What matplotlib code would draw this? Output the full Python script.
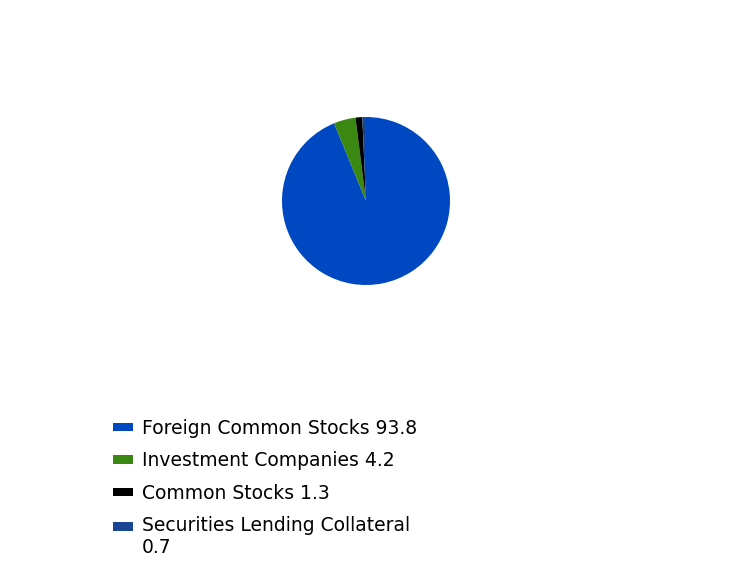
import matplotlib.pyplot as plt
from matplotlib.patches import Patch, Rectangle
from matplotlib.legend_handler import HandlerPatch

categories = ['Foreign Common Stocks', 'Investment Companies', 'Common Stocks',
              'Securities Lending Collateral']
values = [93.8, 4.2, 1.3, 0.7]
colors = ['#0047C2', '#3A8712', '#000000', '#1A4593']
legend_labels = ['Foreign Common Stocks 93.8', 'Investment Companies 4.2',
                 'Common Stocks 1.3', 'Securities Lending Collateral\n0.7']

plt.rcParams['font.family'] = ['DejaVu Sans']


class TopHandler(HandlerPatch):
    # put the swatch next to the first line of a wrapped label
    def __init__(self, shift=0, **kw):
        super().__init__(**kw)
        self.shift = shift

    def create_artists(self, legend, orig_handle, xdescent, ydescent,
                       width, height, fontsize, trans):
        r = Rectangle((-xdescent, -ydescent + self.shift), width, height,
                      facecolor=orig_handle.get_facecolor(), edgecolor='none',
                      transform=trans)
        return [r]


fig = plt.figure(figsize=(7.32, 5.64), dpi=100)
ax = fig.add_axes([366 / 732 - 84 / 732, 1 - (201 + 84) / 564, 168 / 732, 168 / 564])
ax.pie(values, colors=colors, startangle=90, counterclock=False,
       wedgeprops={'linewidth': 0})
ax.set_xlim(-1, 1)
ax.set_ylim(-1, 1)
ax.set_aspect('equal')

handles = [Patch(facecolor=c, edgecolor='none') for c in colors]
handler_map = {h: TopHandler(shift=(8 if i == 3 else 0)) for i, h in enumerate(handles)}
fig.legend(handles, legend_labels, loc='upper left', bbox_to_anchor=(96 / 732, 1 - 402 / 564),
           frameon=False, fontsize=13.5, handlelength=1.07, handleheight=0.32,
           handletextpad=0.48, labelspacing=0.72, handler_map=handler_map)

fig.savefig('out.png', dpi=100)
